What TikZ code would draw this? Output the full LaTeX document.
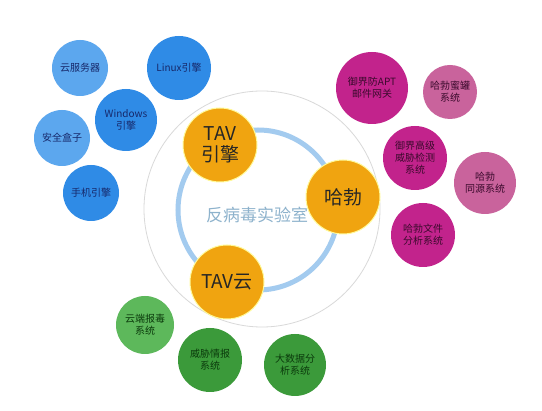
\documentclass[tikz,border=0pt]{standalone}
\usepackage{xcolor}
\usepackage{tikz}
\usepackage{fontspec}
\setmainfont{Noto Sans CJK SC}
\definecolor{coreorange}{HTML}{F0A410}
\definecolor{ringblue}{HTML}{A3CBEF}
\definecolor{labblue}{HTML}{8DB2CC}
\definecolor{lightblue}{HTML}{5CA7EE}
\definecolor{deepblue}{HTML}{2F8BE6}
\definecolor{bluetext}{HTML}{17286A}
\definecolor{deepmag}{HTML}{C2238C}
\definecolor{lightmag}{HTML}{C9639C}
\definecolor{magtext}{HTML}{3A0A2C}
\definecolor{lightgreen}{HTML}{5DB85B}
\definecolor{deepgreen}{HTML}{3B9A3A}
\definecolor{greentext}{HTML}{0B3A0C}

\begin{document}
\begin{tikzpicture}[x=1pt,y=-1pt,
    every node/.style={circle,inner sep=0pt,align=center},
    core node/.style={fill=coreorange,draw=yellow!40,line width=1pt,minimum size=74pt,font=\fontsize{19}{21}\selectfont,text=black!85},
    blue node/.style={fill=deepblue,text=bluetext,font=\fontsize{10}{12}\selectfont},
    magenta node/.style={fill=deepmag,text=magtext,font=\fontsize{10}{12}\selectfont},
    green node/.style={fill=deepgreen,text=greentext,font=\fontsize{10}{12}\selectfont}]
    \useasboundingbox (0,0) rectangle (542,411);
    \fill[white] (0,0) rectangle (542,411);
    % lab rings
    \draw[black!15,line width=0.8pt] (262,209) circle (118);
    \draw[ringblue,line width=5pt] (258,210) circle (80);
    \node[text=labblue,font=\fontsize{17}{19}\selectfont] (lab) at (257,215) {反病毒实验室};
    % core nodes
    \node[core node] (tav_engine) at (220,145) {TAV\\引擎};
    \node[core node] (hubble) at (343,197) {哈勃};
    \node[core node] (tav_cloud) at (227,282) {TAV云};
    % engine side
    \node[blue node,fill=lightblue,minimum size=56pt] (cloud_srv) at (80,68) {云服务器};
    \node[blue node,minimum size=64pt] (linux) at (179,68) {Linux引擎};
    \node[blue node,minimum size=62pt] (windows) at (126,120) {Windows\\引擎};
    \node[blue node,fill=lightblue,minimum size=56pt] (safe_box) at (62,138) {安全盒子};
    \node[blue node,minimum size=56pt] (mobile) at (91,193) {手机引擎};
    % hubble side
    \node[magenta node,minimum size=72pt] (apt_gw) at (372,88) {御界防APT\\邮件网关};
    \node[magenta node,fill=lightmag,minimum size=54pt] (honeypot) at (450,92) {哈勃蜜罐\\系统};
    \node[magenta node,minimum size=64pt] (threat_det) at (415,158) {御界高级\\威胁检测\\系统};
    \node[magenta node,fill=lightmag,minimum size=62pt] (homology) at (485,183) {哈勃\\同源系统};
    \node[magenta node,minimum size=64pt] (file_ana) at (423,235) {哈勃文件\\分析系统};
    % cloud side
    \node[green node,fill=lightgreen,minimum size=58pt] (cloud_rep) at (145,325) {云端报毒\\系统};
    \node[green node,minimum size=64pt] (intel) at (210,360) {威胁情报\\系统};
    \node[green node,minimum size=62pt] (bigdata) at (295,365) {大数据分\\析系统};
\end{tikzpicture}
\end{document}
